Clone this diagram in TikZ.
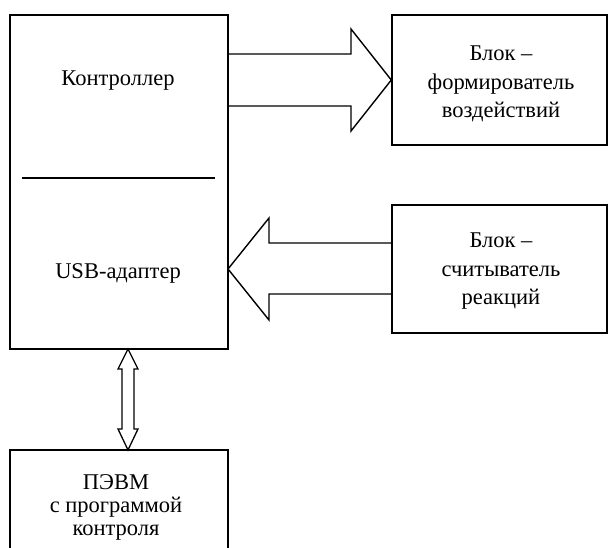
\documentclass[tikz,border=0pt]{standalone}
\usepackage{fontspec}
\setmainfont{Liberation Serif}
\begin{document}
\begin{tikzpicture}[x=1pt,y=-1pt,line width=1.4pt,
  box/.style={draw,rectangle,inner sep=0pt,align=center},
  rtext/.style={font=\fontsize{22.5}{28.5}\selectfont,align=center,inner sep=0pt},
  btext/.style={font=\fontsize{22.5}{23}\selectfont,align=center,inner sep=0pt},
  fat/.style={draw,line width=1.4pt,line join=miter}]
\useasboundingbox (0,0) rectangle (608,547);
\clip (0,0) rectangle (608,547);
% main box
\node[box,minimum width=218pt,minimum height=334pt] (main) at (119,182) {};
\node[font=\fontsize{22.5}{23}\selectfont] (ctrl) at (118,81) {Контроллер};
\node[font=\fontsize{22.5}{23}\selectfont] (usb) at (118,273) {USB-адаптер};
\coordinate (dl) at (22,178);
\coordinate (dr) at (215,178);
\draw (dl) -- (dr);
% right boxes
\node[box,minimum width=215pt,minimum height=130pt] (b1) at (499.5,80) {};
\node[rtext] (b1t) at (501,84) {Блок –\\формирователь\\воздействий};
\node[box,minimum width=215pt,minimum height=128pt] (b2) at (499.5,269) {};
\node[rtext] (b2t) at (501,271.5) {Блок –\\считыватель\\реакций};
% bottom box
\node[box,minimum width=218pt,minimum height=110pt] (pc) at (119,505) {};
\node[btext] (pct) at (116,507) {ПЭВМ\\с программой\\контроля};
% fat arrow to b1
\coordinate (a1s1) at (228,54);
\coordinate (a1s2) at (228,106);
\draw[fat] (a1s1) -- (351,54) -- (351,29) -- (b1.west) -- (351,131) -- (351,106) -- (a1s2);
% fat arrow from b2
\coordinate (a2t) at (228,269);
\draw[fat] (392,243) -- (269,243) -- (269,218) -- (a2t) -- (269,320) -- (269,294) -- (392,294);
% double arrow
\coordinate (dt) at (128,349);
\coordinate (db) at (128,450);
\draw[line width=1.3pt,line join=miter] (dt) -- (138,369) -- (134,369) -- (134,429) -- (138,429) -- (db) -- (118,429) -- (122,429) -- (122,369) -- (118,369) -- cycle;
\end{tikzpicture}
\end{document}
